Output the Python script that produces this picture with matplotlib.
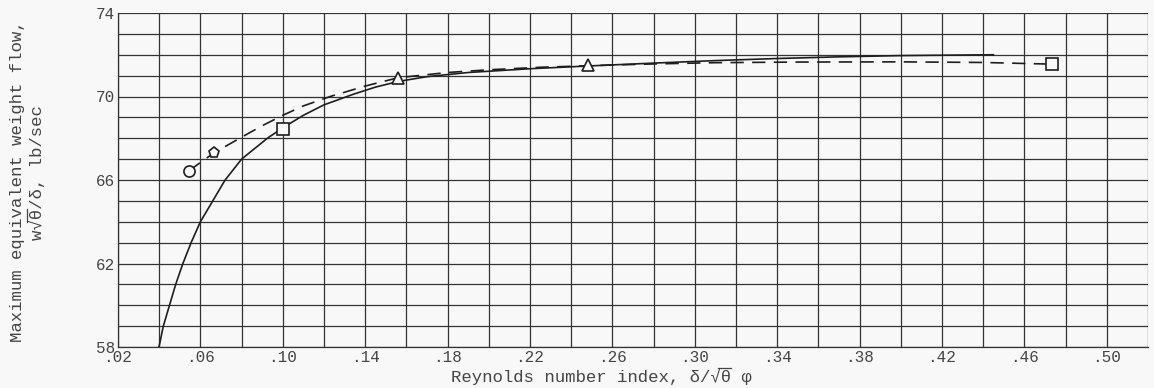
import numpy as np
import matplotlib
matplotlib.use("Agg")
import matplotlib.pyplot as plt
from matplotlib.lines import Line2D
from matplotlib.ticker import MultipleLocator, FixedLocator, FuncFormatter

# faired curve (solid)
solid_x = [0.0399, 0.042, 0.045, 0.048, 0.0515, 0.0555, 0.060, 0.066, 0.072,
           0.080, 0.0925, 0.100, 0.110, 0.120, 0.134, 0.145, 0.156, 0.170,
           0.190, 0.220, 0.250, 0.280, 0.310, 0.340, 0.370, 0.400, 0.445]
solid_y = [58.0, 59.0, 60.0, 61.0, 62.0, 63.0, 64.0, 65.0, 66.0,
           67.0, 68.0, 68.5, 69.1, 69.6, 70.1, 70.45, 70.72, 70.95,
           71.15, 71.33, 71.47, 71.6, 71.72, 71.82, 71.9, 71.96, 72.0]

# faired curve (dashed)
dash_x = [0.0545, 0.0666, 0.080, 0.090, 0.100, 0.110, 0.123, 0.140, 0.156,
          0.180, 0.200, 0.225, 0.250, 0.280, 0.310, 0.350, 0.400, 0.440, 0.4734]
dash_y = [66.45, 67.3, 68.05, 68.6, 69.1, 69.55, 70.0, 70.5, 70.9,
          71.15, 71.28, 71.4, 71.48, 71.56, 71.62, 71.65, 71.66, 71.63, 71.55]

# test points
pt_x = [0.0545, 0.0666, 0.100, 0.156, 0.248, 0.4734]
pt_y = [66.45, 67.3, 68.45, 70.88, 71.5, 71.55]
pt_m = ['o', 'p', 's', '^', '^', 's']

xlabel = 'Reynolds number index, δ/√θ φ'
ylabel1 = 'Maximum equivalent weight flow,'
ylabel2 = 'w√θ/δ, lb/sec'

ink = '#1e1e1e'
txt = '#444444'
bg = '#f8f8f8'
W, H = 1154, 388
plt.rcParams['font.family'] = ['Liberation Mono', 'DejaVu Sans Mono']

fig = plt.figure(figsize=(W / 100, H / 100), dpi=100, facecolor=bg)
ax = fig.add_axes([118 / W, 41 / H, 1030 / W, 334 / H])
ax.set_facecolor(bg)

ax.plot(solid_x, solid_y, color=ink, lw=1.2, solid_joinstyle='round')
ax.plot(dash_x, dash_y, color=ink, lw=1.2, dashes=(8, 5))
for x, y, m in zip(pt_x, pt_y, pt_m):
    ax.plot(x, y, marker=m, ms=8, mfc=bg, mec=ink, mew=1.2, zorder=5)

ax.set_xlim(0.02, 0.52)
ax.set_ylim(58, 74)
ax.xaxis.set_major_locator(FixedLocator(np.arange(0.02, 0.51, 0.04)))
ax.xaxis.set_minor_locator(MultipleLocator(0.02))
ax.yaxis.set_major_locator(FixedLocator([58, 62, 66, 70, 74]))
ax.yaxis.set_minor_locator(MultipleLocator(1))
ax.xaxis.set_major_formatter(FuncFormatter(lambda v, p: ('%.2f' % v)[1:]))
ax.grid(True, which='both', color='#333333', lw=0.9)
ax.tick_params(which='both', length=0, labelsize=11.5, colors=txt)
ax.tick_params(axis='x', pad=2.5)
ax.tick_params(axis='y', pad=2)
for s in ax.spines.values():
    s.set_color('#333333')
    s.set_linewidth(0.9)
ax.spines['top'].set_visible(False)
ax.spines['right'].set_visible(False)

fs = 12.5
tx = fig.text(601 / W, 6 / H, xlabel, ha='center', va='baseline', fontsize=fs, color=txt)
fig.text(18 / W, 1 - 181 / H, ylabel1, rotation=90,
         ha='center', va='center', fontsize=fs, color=txt)
ty = fig.text(37 / W, 1 - 173 / H, ylabel2, rotation=90,
              ha='center', va='center', fontsize=fs, color=txt)

# vinculum over the theta (monospace, so every glyph has the same advance)
fig.canvas.draw()
rend = fig.canvas.get_renderer()
top = fs * 100 / 72 * 0.78
bb = tx.get_window_extent(rend)
cw = bb.width / len(xlabel)
i = xlabel.index('θ')
fig.add_artist(Line2D([(bb.x0 + (i - 0.25) * cw) / W, (bb.x0 + (i + 1) * cw) / W],
                      [(6 + top) / H] * 2, color=txt, lw=0.9))
bb = ty.get_window_extent(rend)
cw = bb.height / len(ylabel2)
i = ylabel2.index('θ')
base_x = bb.x1 - 4.0
fig.add_artist(Line2D([(base_x - top) / W] * 2,
                      [(bb.y0 + (i - 0.25) * cw) / H, (bb.y0 + (i + 1) * cw) / H],
                      color=txt, lw=0.9))

fig.savefig('out.png', dpi=100, facecolor=fig.get_facecolor())
